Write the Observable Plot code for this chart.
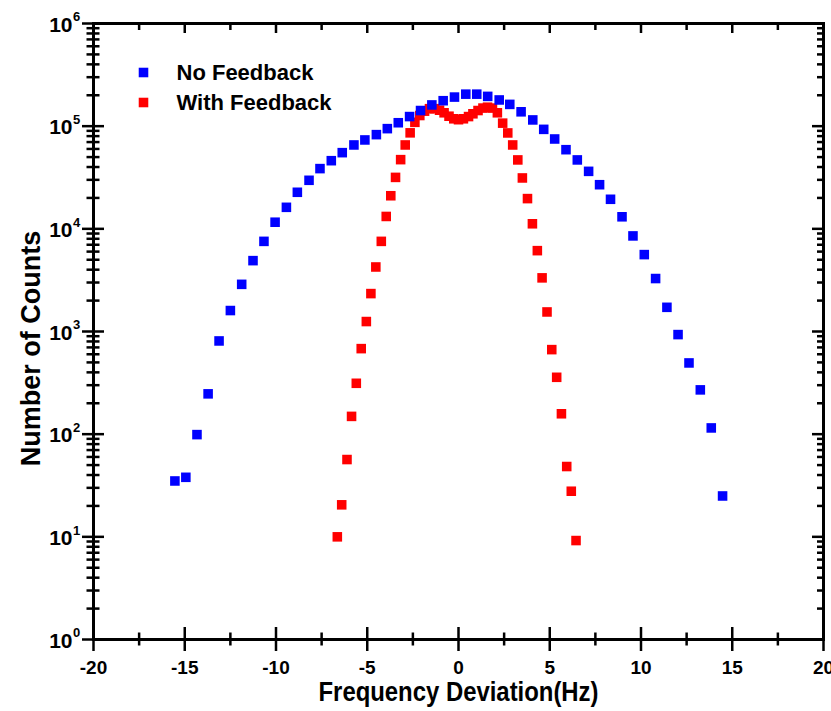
<!DOCTYPE html>
<html>
<head>
<meta charset="utf-8">
<script src="https://cdn.jsdelivr.net/npm/d3@7"></script>
<script src="https://cdn.jsdelivr.net/npm/@observablehq/plot@0.6"></script>
<style>
  html, body { margin: 0; padding: 0; background: #fff; }
  #chart { width: 831px; height: 711px; }
</style>
</head>
<body>
<div id="chart"></div>
<script>
// ---- Data ----
const noFeedbackX = [-15.54, -14.94, -14.33, -13.72, -13.12, -12.50, -11.88, -11.26, -10.66, -10.05,
  -9.43, -8.83, -8.19, -7.59, -6.97, -6.37, -5.73, -5.13, -4.50, -3.90,
  -3.30, -2.68, -2.08, -1.46, -0.84, -0.22, 0.40, 1.00, 1.60, 2.23,
  2.81, 3.43, 4.07, 4.67, 5.27, 5.89, 6.51, 7.13, 7.73, 8.33,
  8.96, 9.56, 10.18, 10.80, 11.42, 12.03, 12.63, 13.25, 13.85, 14.47];
const noFeedbackCounts = [35, 38, 99, 247, 809, 1600, 2880, 4900, 7550, 11600,
  16200, 22700, 29700, 38600, 46100, 55200, 65600, 73400, 82700, 94600,
  108000, 124000, 142000, 161000, 177000, 192000, 205000, 205000, 195000, 180000,
  163000, 138000, 115000, 93100, 75000, 59000, 46900, 36300, 26900, 19400,
  13100, 8530, 5610, 3280, 1720, 933, 494, 270, 115, 25];

const withFeedbackX = [-6.64, -6.40, -6.11, -5.86, -5.60, -5.33, -5.05, -4.80, -4.53, -4.23,
  -3.96, -3.71, -3.45, -3.17, -2.92, -2.65, -2.39, -2.12, -1.86, -1.59,
  -1.31, -1.04, -0.79, -0.52, -0.26, 0.00, 0.27, 0.55, 0.79, 1.07,
  1.34, 1.59, 1.86, 2.13, 2.42, 2.70, 2.97, 3.25, 3.50, 3.78,
  4.05, 4.32, 4.58, 4.85, 5.11, 5.38, 5.64, 5.93, 6.18, 6.44];
const withFeedbackCounts = [10, 20.5, 56.6, 149, 313, 681, 1250, 2340, 4250, 7550,
  13200, 21000, 31700, 47200, 65600, 86100, 109000, 127000, 140000, 148000,
  148000, 143000, 135000, 125000, 118000, 115600, 118000, 124000, 132000, 142000,
  150000, 153000, 150000, 135000, 107000, 85900, 65600, 46900, 31300, 19700,
  11200, 6130, 3330, 1550, 666, 358, 158, 48.4, 27.8, 9.2];

const seriesNames = ["No Feedback", "With Feedback"];
const seriesColors = ["#0000ff", "#ff0000"];

const xMajorTicks = [-20, -15, -10, -5, 0, 5, 10, 15, 20];
const xMinorTicks = [-17.5, -12.5, -7.5, -2.5, 2.5, 7.5, 12.5, 17.5];
const yMajorTicks = [1, 10, 100, 1000, 10000, 100000, 1000000];
const yMinorTicks = [];
for (const d of yMajorTicks.slice(0, -1)) for (let k = 2; k <= 9; k++) yMinorTicks.push(k * d);

const xLabel = "Frequency Deviation(Hz)";
const yLabel = "Number of Counts";

// ---- Tables built from the arrays ----
const noFb = noFeedbackX.map((x, i) => ({x, y: noFeedbackCounts[i]}));
const withFb = withFeedbackX.map((x, i) => ({x, y: withFeedbackCounts[i]}));

// ---- Layout ----
const W = 831, H = 711;
const mL = 93, mR = 8, mT = 23, mB = 72;
const pW = W - mL - mR, pH = H - mT - mB;
const font = "'Liberation Sans', Arial, Helvetica, sans-serif";
const tw = 2.5;
const sq = 5.4; // square symbol radius (side ≈ 9.5px)
const txt = {fill: "black", fontFamily: font, fontWeight: "bold", lineAnchor: "middle"};

const chart = Plot.plot({
  width: W, height: H,
  marginLeft: mL, marginRight: mR, marginTop: mT, marginBottom: mB,
  style: {fontFamily: font, background: "#fff", overflow: "visible"},
  x: {domain: [-20, 20], axis: null},
  y: {type: "log", domain: [1, 1e6], axis: null},
  marks: [
    // data
    Plot.dot(withFb, {x: "x", y: "y", symbol: "square", r: sq, fill: seriesColors[1], stroke: "none"}),
    Plot.dot(noFb, {x: "x", y: "y", symbol: "square", r: sq, fill: seriesColors[0], stroke: "none"}),

    // frame
    Plot.frame({stroke: "black", strokeWidth: 3}),

    // bottom ticks (crossing)
    Plot.tickX(xMajorTicks, {x: d => d, insetTop: pH - 12, insetBottom: -12, stroke: "black", strokeWidth: tw}),
    Plot.tickX(xMinorTicks, {x: d => d, insetTop: pH - 6.5, insetBottom: -6.5, stroke: "black", strokeWidth: tw}),
    // top ticks (inward)
    Plot.tickX(xMajorTicks, {x: d => d, insetTop: 0, insetBottom: pH - 10, stroke: "black", strokeWidth: tw}),
    Plot.tickX(xMinorTicks, {x: d => d, insetTop: 0, insetBottom: pH - 7, stroke: "black", strokeWidth: tw}),
    // left ticks (crossing)
    Plot.tickY(yMajorTicks, {y: d => d, insetLeft: -11, insetRight: pW - 11, stroke: "black", strokeWidth: tw}),
    Plot.tickY(yMinorTicks, {y: d => d, insetLeft: -6.5, insetRight: pW - 6.5, stroke: "black", strokeWidth: tw}),
    // right ticks (inward)
    Plot.tickY(yMajorTicks, {y: d => d, insetLeft: pW - 11, insetRight: 0, stroke: "black", strokeWidth: tw}),
    Plot.tickY(yMinorTicks, {y: d => d, insetLeft: pW - 6, insetRight: 0, stroke: "black", strokeWidth: tw}),

    // x tick labels
    Plot.text(xMajorTicks, {x: d => d, text: d => String(d), frameAnchor: "bottom", dy: 28, fontSize: 19, ...txt}),
    // y tick labels: "10" with superscript exponent
    Plot.text(yMajorTicks, {y: d => d, text: () => "10", frameAnchor: "left", dx: -21, dy: 1.5,
      textAnchor: "end", fontSize: 21, ...txt}),
    Plot.text(yMajorTicks, {y: d => d, text: d => String(Math.round(Math.log10(d))), frameAnchor: "left", dx: -20.5, dy: -6.5,
      textAnchor: "start", fontSize: 13, ...txt}),

    // axis titles
    Plot.text([xLabel], {text: d => d, frameAnchor: "bottom", dy: 53, fontSize: 27, ...txt}),
    Plot.text([yLabel], {text: d => d, frameAnchor: "left", dx: -62, dy: 17, rotate: -90, textAnchor: "middle",
      fontSize: 27, ...txt}),

    // legend
    Plot.dot([0], {frameAnchor: "top-left", dx: 50, dy: 49, symbol: "square", r: sq, fill: seriesColors[0], stroke: "none"}),
    Plot.dot([0], {frameAnchor: "top-left", dx: 50, dy: 79, symbol: "square", r: sq, fill: seriesColors[1], stroke: "none"}),
    Plot.text([seriesNames[0]], {text: d => d, frameAnchor: "top-left", dx: 83, dy: 49, textAnchor: "start",
      fontSize: 22, ...txt}),
    Plot.text([seriesNames[1]], {text: d => d, frameAnchor: "top-left", dx: 83, dy: 79, textAnchor: "start",
      fontSize: 22, ...txt})
  ]
});
// The reference's x-axis title is horizontally condensed: fit it to its measured width
d3.select(chart).selectAll("text").filter(function () { return this.textContent === xLabel; })
  .attr("textLength", 280).attr("lengthAdjust", "spacingAndGlyphs");
document.getElementById("chart").appendChild(chart);
</script>
</body>
</html>
